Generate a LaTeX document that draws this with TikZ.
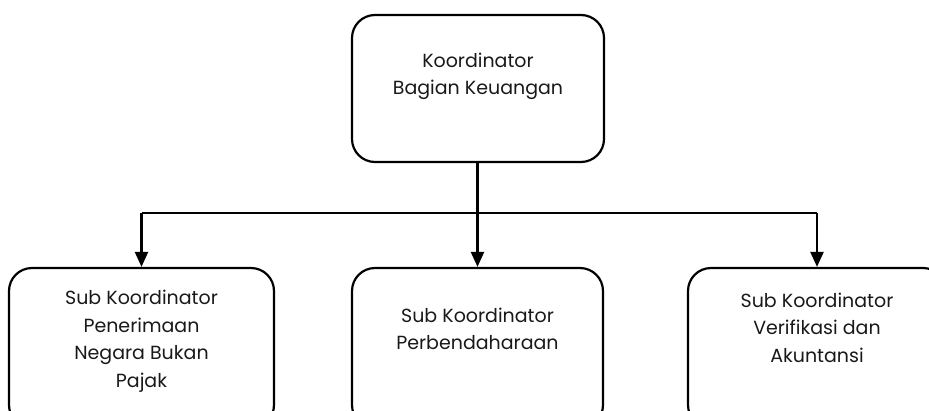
\documentclass[tikz,border=0pt]{standalone}
\usepackage{fontspec}
\setmainfont{Poppins}
\usetikzlibrary{arrows.meta}
\begin{document}
\begin{tikzpicture}[x=1pt,y=-1pt,
  box/.style={draw,line width=2.2pt,rounded corners=23pt},
  lbl/.style={align=center,font=\fontsize{19}{27.5}\selectfont,text=black!90,inner sep=0pt},
  arr/.style={line width=2.2pt,-{Triangle[length=15pt,width=13pt]}},
  ln/.style={line width=2.2pt}]
\useasboundingbox (0,0) rectangle (929,410);
\clip (0,0) rectangle (929,410);
\node[box,minimum width=252pt,minimum height=147pt] (top) at (478,88.5) {};
\node[box,minimum width=265pt,minimum height=160pt] (left) at (141.5,348) {};
\node[box,minimum width=251pt,minimum height=160pt] (mid) at (477.5,348) {};
\node[box,minimum width=258pt,minimum height=160pt] (right) at (817,348) {};
\node[lbl] (ttop) at (478,76.5) {Koordinator\\Bagian Keuangan};
\node[lbl] (tleft) at (141.5,341) {Sub Koordinator\\Penerimaan\\Negara Bukan\\Pajak};
\node[lbl] (tmid) at (477.5,329) {Sub Koordinator\\Perbendaharaan};
\node[lbl] (tright) at (817,327.5) {Sub Koordinator\\Verifikasi dan\\Akuntansi};
\coordinate (jl) at (left.north |- 0,213);
\coordinate (jr) at (right.north |- 0,213);
\draw[arr] (top.south -| mid.north) -- (mid.north);
\draw[ln] (jl) -- (jr);
\draw[arr] (jl) -- (left.north);
\draw[arr] (jr) -- (right.north);
\end{tikzpicture}
\end{document}
